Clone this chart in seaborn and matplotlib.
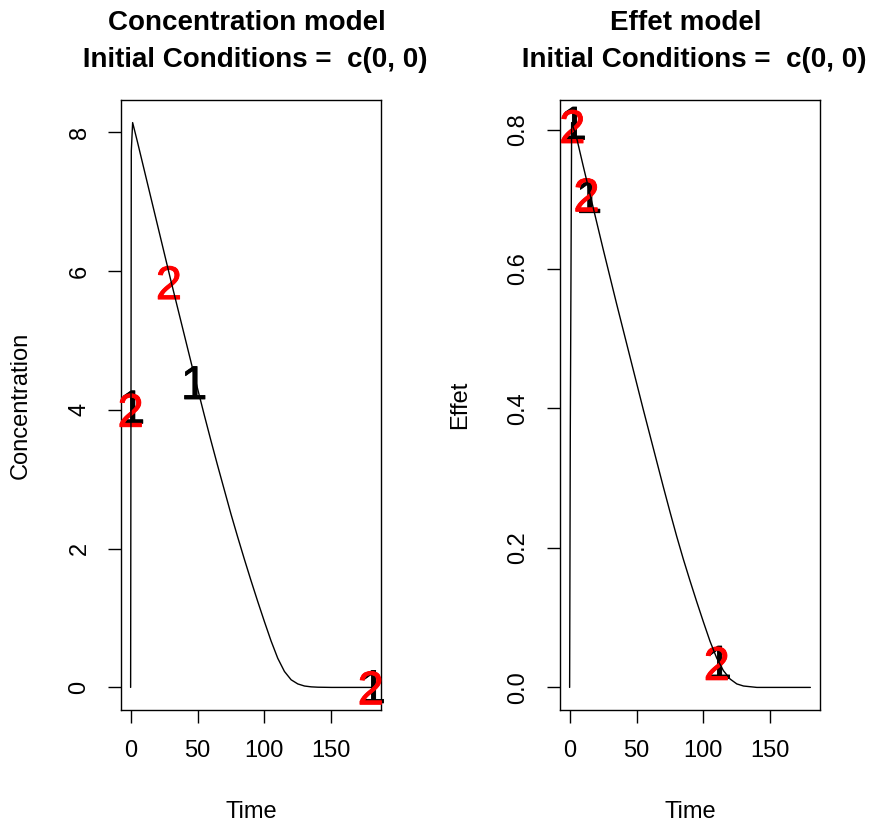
import matplotlib
matplotlib.use("Agg")
import matplotlib.pyplot as plt
import matplotlib.transforms as mtransforms
import matplotlib.patheffects as pe
import pandas as pd
import seaborn as sns

# ODE solution sampled over time
time = [0, 0.5, 1.5, 5, 10, 15, 20, 25, 30, 35, 40, 45, 50, 55, 60, 65, 70, 75,
        80, 85, 90, 95, 100, 105, 110, 115, 120, 125, 130, 135, 140, 150, 160,
        170, 180]
concentration = [0, 7.73, 8.14, 7.87, 7.47, 7.07, 6.67, 6.27, 5.87, 5.48, 5.09,
                 4.70, 4.31, 3.93, 3.56, 3.20, 2.85, 2.50, 2.17, 1.85, 1.54, 1.24,
                 0.95, 0.67, 0.42, 0.23, 0.11, 0.05, 0.02, 0.008, 0.003, 0, 0, 0,
                 0]
effect = [0, 0.366, 0.81, 0.79, 0.749, 0.709, 0.669, 0.629, 0.590, 0.551, 0.513,
          0.475, 0.437, 0.399, 0.362, 0.325, 0.288, 0.252, 0.217, 0.184, 0.153,
          0.123, 0.094, 0.066, 0.042, 0.024, 0.012, 0.005, 0.002, 0.001, 0, 0, 0,
          0, 0]

# series symbols ("1" and "2") drawn on the curves
conc_sym1_time = [1, 47.5, 181]
conc_sym1_value = [4.05, 4.40, 0.02]
conc_sym2_time = [0, 28.6, 179.5]
conc_sym2_value = [4.0, 5.84, 0.0]
eff_sym1_time = [3, 14.5, 111.5]
eff_sym1_value = [0.81, 0.705, 0.037]
eff_sym2_time = [2, 12.6, 110]
eff_sym2_value = [0.805, 0.707, 0.035]

x_ticks = [0, 50, 100, 150]
conc_ticks = [0, 2, 4, 6, 8]
eff_ticks = [0.0, 0.2, 0.4, 0.6, 0.8]
eff_tick_labels = ["0.0", "0.2", "0.4", "0.6", "0.8"]

sns.set_style("white")
plt.rcParams["font.family"] = ["Liberation Sans", "DejaVu Sans"]
plt.rcParams["text.color"] = "black"
plt.rcParams["axes.labelcolor"] = "black"
plt.rcParams["xtick.color"] = "black"
plt.rcParams["ytick.color"] = "black"

df = pd.DataFrame({"Time": time, "Concentration": concentration, "Effet": effect})

W, H = 872, 825
fig = plt.figure(figsize=(W / 100, H / 100), dpi=100)
ax1 = fig.add_axes([121 / W, 115 / H, 260 / W, 610 / H])
ax2 = fig.add_axes([560 / W, 115 / H, 260 / W, 610 / H])

BASE = 17
TITLE = 20
SYM = 34


def r_range(vals):
    lo, hi = min(vals), max(vals)
    pad = 0.04 * (hi - lo)
    return lo - pad, hi + pad


def panel(ax, col, yticks, ylabels, sym1, sym2, title1, title2):
    sns.lineplot(data=df, x="Time", y=col, ax=ax, color="black", lw=1.0,
                 estimator=None, sort=False, zorder=5)
    off = mtransforms.offset_copy(ax.transData, fig=fig, y=-0.358 * SYM,
                                  units="points")
    for (tx, vy) in zip(*sym1):
        ax.text(tx, vy, "1", color="black", fontsize=SYM, ha="center",
                va="baseline", transform=off, zorder=3,
                path_effects=[pe.withStroke(linewidth=0.6, foreground="black")])
    for (tx, vy) in zip(*sym2):
        ax.text(tx, vy, "2", color="#ff0000", fontsize=SYM, ha="center",
                va="baseline", transform=off, zorder=4,
                path_effects=[pe.withStroke(linewidth=0.6, foreground="#ff0000")])
    ax.set_xlim(r_range(time))
    ax.set_ylim(r_range(df[col]))
    ax.set_xticks(x_ticks)
    ax.set_xticklabels([str(t) for t in x_ticks])
    ax.set_yticks(yticks)
    ax.set_yticklabels(ylabels)
    for s in ax.spines.values():
        s.set_visible(True)
        s.set_color("black")
        s.set_linewidth(1.0)
    ax.tick_params(axis="both", direction="out", length=9.4, width=1.0,
                   labelsize=BASE, pad=12.5, bottom=True, left=True)
    ax.tick_params(axis="y", labelrotation=90)
    for lbl in ax.get_yticklabels():
        lbl.set_va("center")
    ax.set_xlabel("Time", fontsize=BASE)
    ax.set_ylabel(col, fontsize=BASE)
    ax.xaxis.set_label_coords(0.5, -0.150)
    ax.yaxis.set_label_coords(-0.3417, 0.5)
    ax.xaxis.label.set_va("top")
    cx = (ax.get_position().x0 + ax.get_position().x1) / 2
    fig.text(cx, 1 - 23 / H, title1, ha="center", va="center",
             fontsize=TITLE, fontweight="bold")
    fig.text(cx, 1 - 60 / H, title2, ha="center", va="center",
             fontsize=TITLE, fontweight="bold")


panel(ax1, "Concentration", conc_ticks, [str(v) for v in conc_ticks],
      (conc_sym1_time, conc_sym1_value), (conc_sym2_time, conc_sym2_value),
      "Concentration model ", " Initial Conditions =  c(0, 0)")
panel(ax2, "Effet", eff_ticks, eff_tick_labels,
      (eff_sym1_time, eff_sym1_value), (eff_sym2_time, eff_sym2_value),
      "Effet model ", " Initial Conditions =  c(0, 0)")

fig.savefig("out.png", dpi=100, facecolor="white")
